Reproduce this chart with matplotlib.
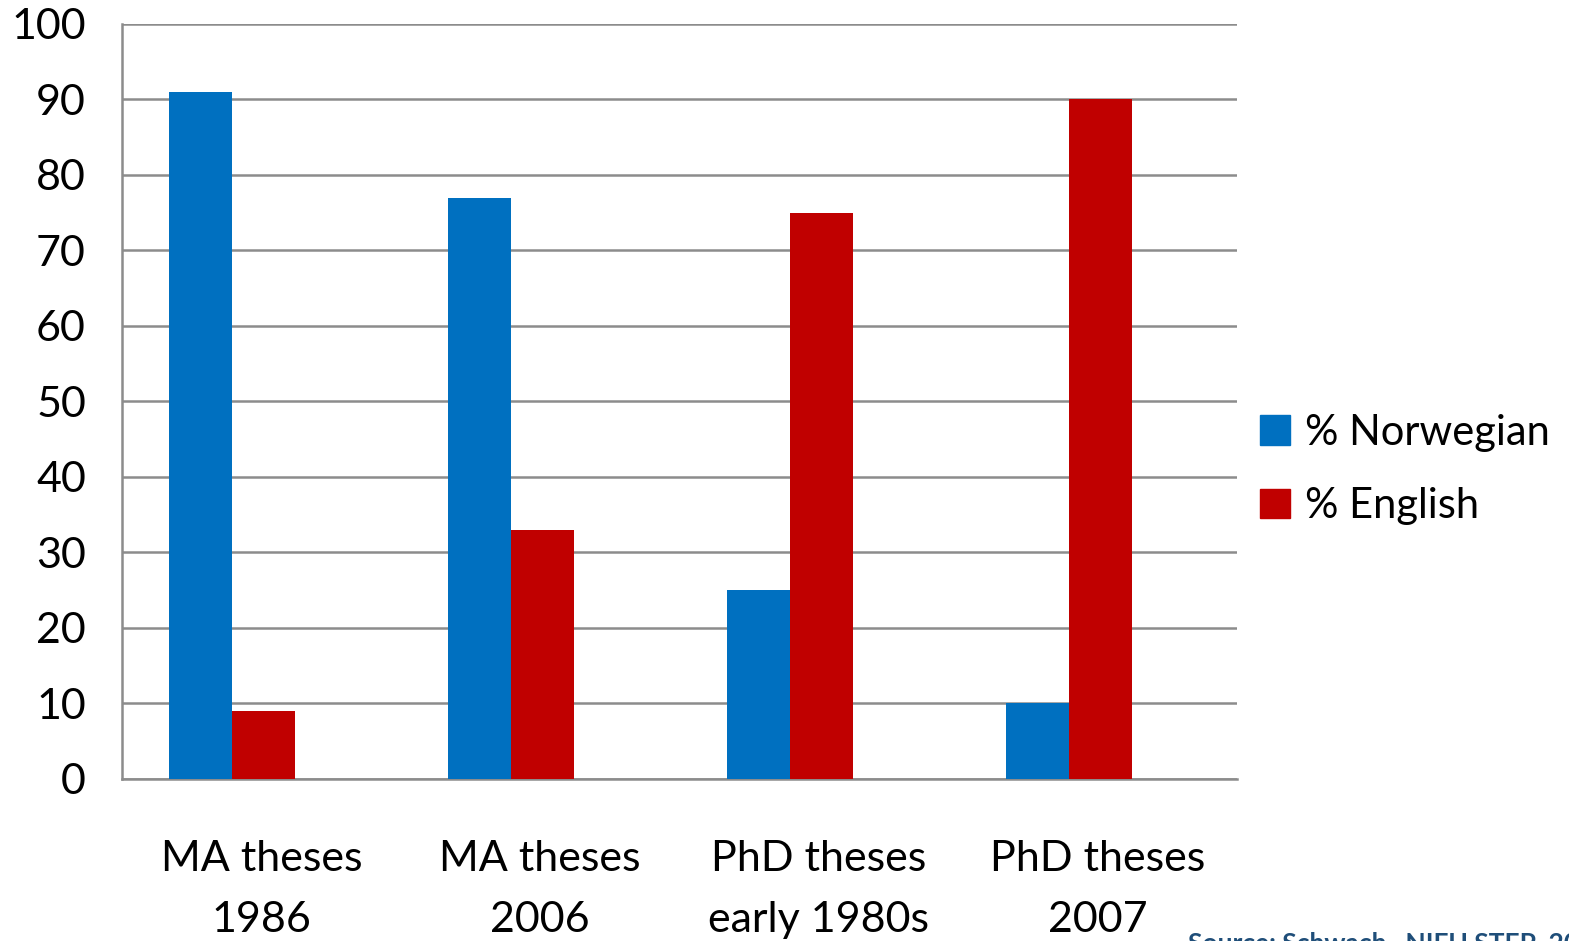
import numpy as np
import matplotlib
matplotlib.use("Agg")
import matplotlib.pyplot as plt
from matplotlib.patches import Patch

plt.rcParams['font.family'] = ['Lato', 'DejaVu Sans']

categories = ["MA theses\n1986", "MA theses\n2006", "PhD theses\nearly 1980s", "PhD theses\n2007"]
norwegian = [91, 77, 25, 10]
english = [9, 33, 75, 90]
series_names = ["% Norwegian", "% English"]
yticks = [0, 10, 20, 30, 40, 50, 60, 70, 80, 90, 100]

blue = "#0070c0"
red = "#c00000"
grid = "#8c8c8c"

fig = plt.figure(figsize=(15.69, 9.41), dpi=100)
ax = fig.add_axes([0.0778, 0.1722, 0.7106, 0.8023])

x = np.arange(len(categories))
w = 0.226
# bars sit a bit left of the category centre (room for an empty third series)
ax.bar(x - 0.33, norwegian, width=w, align='edge', color=blue, zorder=3)
ax.bar(x - 0.33 + w, english, width=w, align='edge', color=red, zorder=3)

ax.set_xlim(-0.5, len(categories) - 0.5)
ax.set_ylim(0, 100)
ax.set_yticks(yticks)
ax.set_yticklabels([str(t) for t in yticks], fontsize=31)
ax.set_xticks(x)
ax.set_xticklabels(categories, fontsize=31, linespacing=1.75)
ax.tick_params(axis='y', length=0, pad=26)
ax.tick_params(axis='x', length=0, pad=44)

ax.yaxis.grid(True, color=grid, linewidth=1.8, zorder=0)
for side in ['top', 'right']:
    ax.spines[side].set_visible(False)
for side in ['left', 'bottom']:
    ax.spines[side].set_color(grid)
    ax.spines[side].set_linewidth(1.8)

handles = [Patch(color=blue), Patch(color=red)]
ax.legend(handles, series_names, loc='center left', bbox_to_anchor=(0.987, 0.41),
          frameon=False, fontsize=30, handlelength=0.72, handleheight=0.72,
          handletextpad=0.36, labelspacing=0.85)

fig.text(0.757, 0.0105, "Source: Schwach , NIFU STEP, 2008", fontsize=19,
         fontweight='bold', color="#1f4e79", va='top', ha='left')

fig.savefig("out.png", dpi=100)
